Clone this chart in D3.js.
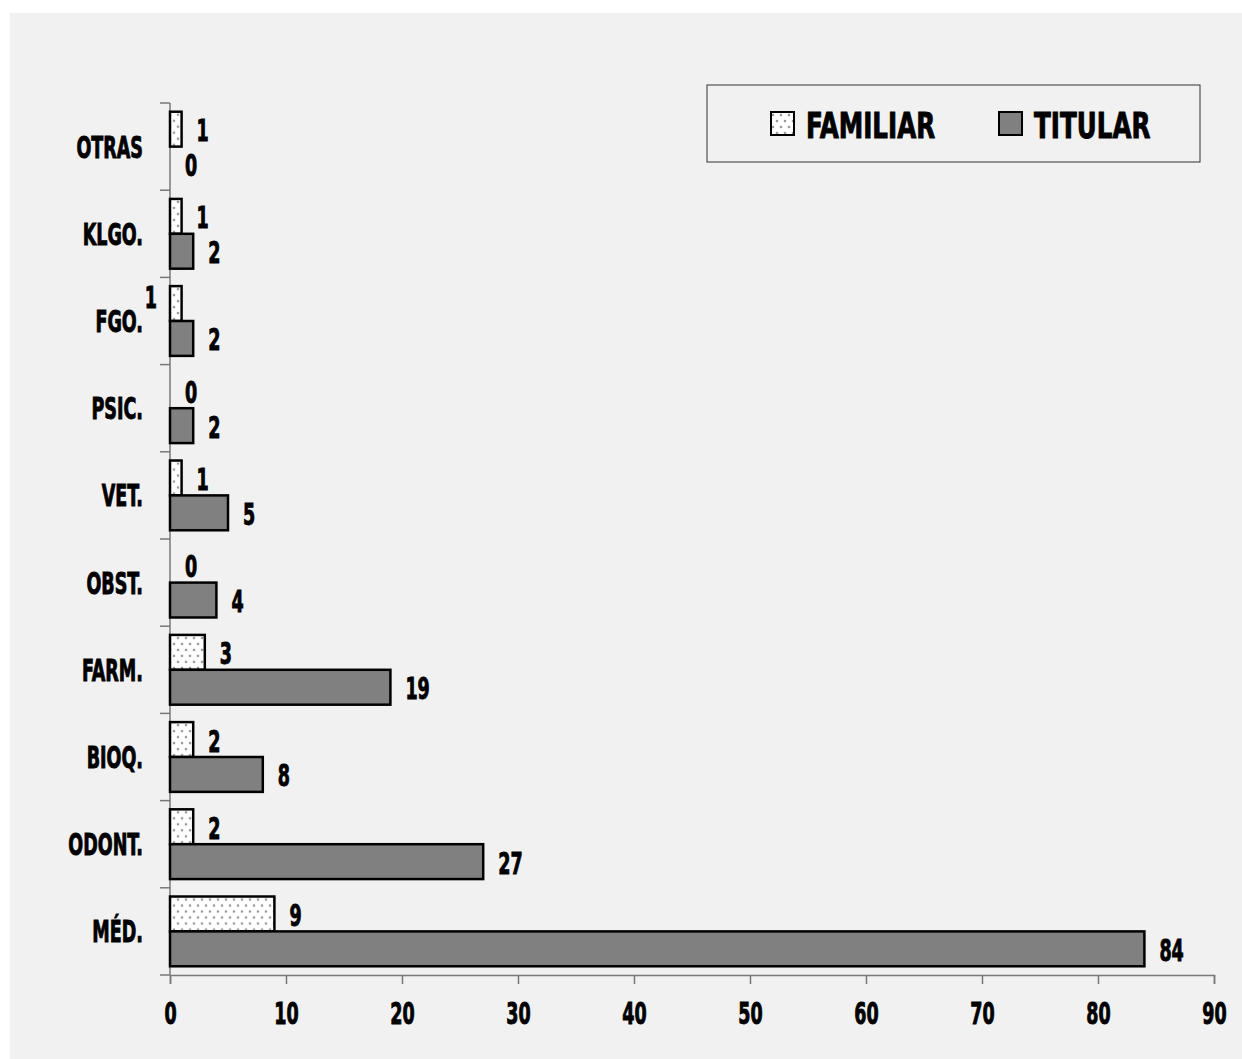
<!DOCTYPE html>
<html>
<head>
<meta charset="utf-8">
<script src="https://cdn.jsdelivr.net/npm/d3@7"></script>
<style>
  body { margin: 0; background: #fff; }
  text { font-family: "DejaVu Sans Condensed", "DejaVu Sans", sans-serif; font-weight: bold; fill: #000; stroke: #000; stroke-width: 0.9px; }
</style>
</head>
<body>
<svg id="chart" width="1242" height="1059"></svg>
<script>
// categories top to bottom
var categories = ["OTRAS", "KLGO.", "FGO.", "PSIC.", "VET.", "OBST.", "FARM.", "BIOQ.", "ODONT.", "MÉD."];
var familiar = [1, 1, 1, 0, 1, 0, 3, 2, 2, 9];
var titular = [0, 2, 2, 2, 5, 4, 19, 8, 27, 84];
var seriesNames = ["FAMILIAR", "TITULAR"];
var xTicks = [0, 10, 20, 30, 40, 50, 60, 70, 80, 90];

var svg = d3.select("#chart");
var sx = 0.65; // horizontal squeeze to mimic the condensed font

svg.append("rect")
    .attr("x", 10).attr("y", 13)
    .attr("width", 1232).attr("height", 1046)
    .attr("fill", "#f1f1f1");

/* dotted fill */
var defs = svg.append("defs");
var pat = defs.append("pattern")
    .attr("id", "dots")
    .attr("patternUnits", "userSpaceOnUse")
    .attr("width", 8).attr("height", 12);
pat.append("rect").attr("width", 8).attr("height", 12).attr("fill", "#fff");
pat.append("circle").attr("cx", 2).attr("cy", 3).attr("r", 1.3).attr("fill", "#999");
pat.append("circle").attr("cx", 6).attr("cy", 9).attr("r", 1.3).attr("fill", "#999");

var x = d3.scaleLinear().domain([0, 90]).range([170, 1214]);
var y = d3.scaleBand().domain(categories).range([103, 975])
    .paddingInner(0.2).paddingOuter(0.1);
var ySub = d3.scaleBand().domain(seriesNames).range([0, y.bandwidth()]);

var rows = categories.map(function (c, i) {
    return {cat: c, values: [familiar[i], titular[i]]};
});

/* x axis */
var xAxis = svg.append("g")
    .attr("transform", "translate(0,975)")
    .call(d3.axisBottom(x).tickValues(xTicks).tickSize(9).tickPadding(19).tickSizeOuter(9));
xAxis.select(".domain").attr("stroke", "#777").attr("stroke-width", 1.5);
xAxis.selectAll(".tick line").attr("stroke", "#777").attr("stroke-width", 1.5);
xAxis.selectAll(".tick text")
    .style("font-size", "30px")
    .style("font-family", null)
    .attr("fill", "#000")
    .attr("transform", "scale(" + sx + ",1)");

/* y axis */
svg.append("line")
    .attr("x1", 170).attr("x2", 170)
    .attr("y1", 103).attr("y2", 975)
    .attr("stroke", "#777").attr("stroke-width", 1.5);

var step = y.step();
svg.selectAll(".ytick")
    .data(d3.range(categories.length + 1))
    .enter().append("line")
    .attr("class", "ytick")
    .attr("x1", 160).attr("x2", 170)
    .attr("y1", function (i) { return 103 + i * step; })
    .attr("y2", function (i) { return 103 + i * step; })
    .attr("stroke", "#777").attr("stroke-width", 1.5);

svg.selectAll(".ylab")
    .data(categories)
    .enter().append("text")
    .attr("class", "ylab")
    .attr("text-anchor", "end")
    .style("font-size", "30px")
    .attr("transform", function (d) {
        return "translate(143," + (y(d) + y.bandwidth() / 2 + 11) + ") scale(" + sx + ",1)";
    })
    .text(function (d) { return d; });

/* bars */
var groups = svg.selectAll(".grp")
    .data(rows)
    .enter().append("g")
    .attr("class", "grp")
    .attr("transform", function (d) { return "translate(0," + y(d.cat) + ")"; });

groups.selectAll("rect")
    .data(function (d) { return d.values.map(function (v, j) { return {s: seriesNames[j], v: v, cat: d.cat}; }); })
    .enter().append("rect")
    .filter(function (d) { return d.v > 0; })
    .attr("x", x(0))
    .attr("y", function (d) { return ySub(d.s); })
    .attr("width", function (d) { return x(d.v) - x(0); })
    .attr("height", ySub.bandwidth())
    .attr("fill", function (d) { return d.s == "FAMILIAR" ? "url(#dots)" : "#808080"; })
    .attr("stroke", "#000")
    .attr("stroke-width", 2.5);

groups.selectAll(".val")
    .data(function (d) { return d.values.map(function (v, j) { return {s: seriesNames[j], v: v, cat: d.cat}; }); })
    .enter().append("text")
    .attr("class", "val")
    .style("font-size", "30px")
    .attr("text-anchor", function (d) {
        return (d.cat == "FGO." && d.s == "FAMILIAR") ? "end" : "start";
    })
    .attr("transform", function (d) {
        var cy = ySub(d.s) + ySub.bandwidth() / 2 + 12;
        var tx = x(d.v) + 15;
        if (d.cat == "FGO." && d.s == "FAMILIAR") { tx = x(0) - 13; cy -= 8; }
        return "translate(" + tx + "," + cy + ") scale(" + sx + ",1)";
    })
    .text(function (d) { return d.v; });

/* legend */
var legend = svg.append("g");
legend.append("rect")
    .attr("x", 707).attr("y", 85)
    .attr("width", 493).attr("height", 77)
    .attr("fill", "none")
    .attr("stroke", "#333").attr("stroke-width", 1);

var legX = [771, 999];
var item = legend.selectAll(".leg")
    .data(seriesNames)
    .enter().append("g")
    .attr("class", "leg")
    .attr("transform", function (d, i) { return "translate(" + legX[i] + ",112)"; });

item.append("rect")
    .attr("width", 23).attr("height", 23)
    .attr("fill", function (d) { return d == "FAMILIAR" ? "url(#dots)" : "#808080"; })
    .attr("stroke", "#000").attr("stroke-width", 2);

item.append("text")
    .style("font-size", "36px")
    .attr("transform", "translate(35,26) scale(0.76,1)")
    .text(function (d) { return d; });
</script>
</body>
</html>
